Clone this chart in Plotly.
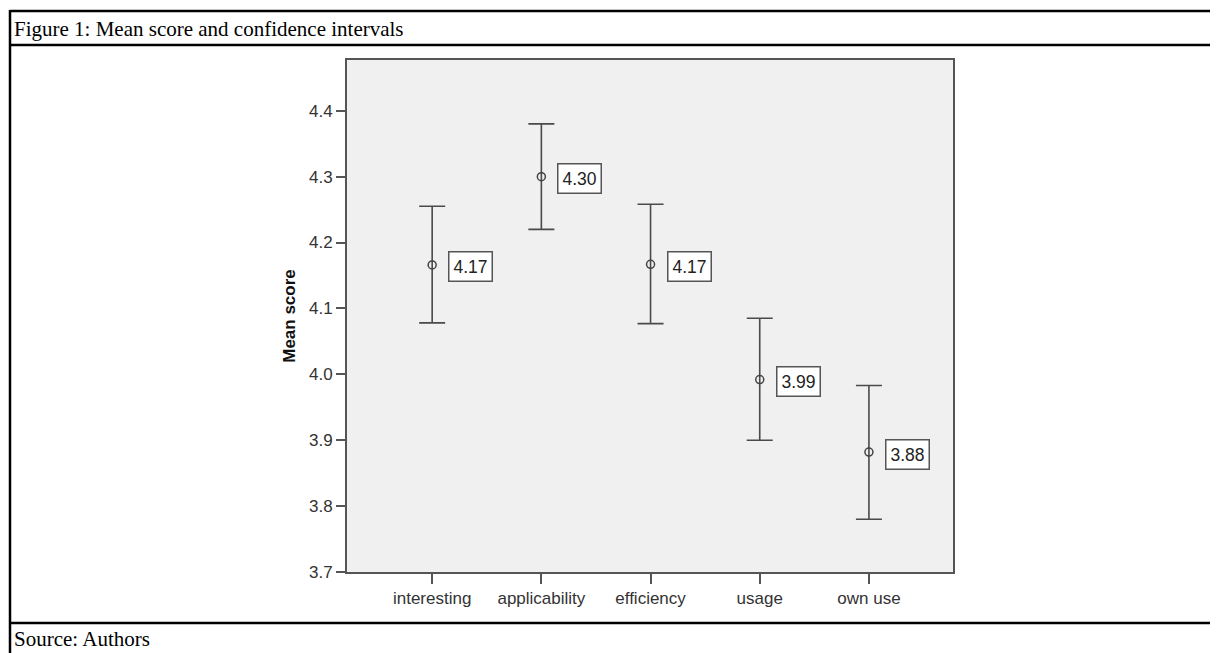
import plotly.graph_objects as go

categories = ["interesting", "applicability", "efficiency", "usage", "own use"]
means = [4.166, 4.300, 4.167, 3.992, 3.882]
ci_upper = [4.255, 4.380, 4.258, 4.085, 3.983]
ci_lower = [4.078, 4.220, 4.077, 3.900, 3.780]
mean_labels = ["4.17", "4.30", "4.17", "3.99", "3.88"]
y_ticks = [3.7, 3.8, 3.9, 4.0, 4.1, 4.2, 4.3, 4.4]

# The page body has an 8px margin, so the figure is 8px smaller than the window
OFF = 8
W, H = 1218 - OFF, 653 - OFF
L, R, T, B = 347 - OFF, 953 - OFF, 60 - OFF, 572 - OFF  # plot area in figure pixels


def px(x):
    """page pixel x -> paper coordinate"""
    return (x - OFF - L) / (R - L)


def py(y):
    """page pixel y -> paper coordinate"""
    return (B - (y - OFF)) / (B - T)


xs = list(range(len(categories)))
err_plus = [u - m for u, m in zip(ci_upper, means)]
err_minus = [m - l for m, l in zip(means, ci_lower)]

fig = go.Figure()
fig.add_trace(go.Scatter(
    x=xs, y=means, mode="markers",
    marker=dict(symbol="circle-open", size=8, color="#444444", line=dict(width=1.5, color="#444444")),
    error_y=dict(type="data", symmetric=False, array=err_plus, arrayminus=err_minus,
                 color="#4a4a4a", thickness=1.6, width=13),
    showlegend=False, hoverinfo="skip",
))

for x, m, lab in zip(xs, means, mean_labels):
    fig.add_annotation(
        x=x, y=m, xref="x", yref="y", text=lab, showarrow=False,
        xanchor="left", yanchor="middle", xshift=16, yshift=-2,
        font=dict(family="Liberation Sans, Arial, sans-serif", size=17.5, color="#222222"),
        bgcolor="white", bordercolor="#555555", borderwidth=1.5, borderpad=4,
    )

# Figure table frame and captions
frame = dict(color="black", width=2.5)
shapes = [
    dict(type="line", xref="paper", yref="paper", x0=px(10), x1=px(1230), y0=py(11), y1=py(11), line=frame),
    dict(type="line", xref="paper", yref="paper", x0=px(10), x1=px(1230), y0=py(45), y1=py(45), line=frame),
    dict(type="line", xref="paper", yref="paper", x0=px(10), x1=px(1230), y0=py(623), y1=py(623), line=frame),
    dict(type="line", xref="paper", yref="paper", x0=px(10), x1=px(10), y0=py(10), y1=py(660), line=frame),
]
fig.update_layout(shapes=shapes)

fig.add_annotation(
    x=px(12), y=py(29), xref="paper", yref="paper", xanchor="left", yanchor="middle",
    text="Figure 1: Mean score and confidence intervals", showarrow=False,
    font=dict(family="Liberation Serif, Times New Roman, serif", size=21, color="black"),
)
fig.add_annotation(
    x=px(12), y=py(639), xref="paper", yref="paper", xanchor="left", yanchor="middle",
    text="Source: Authors", showarrow=False,
    font=dict(family="Liberation Serif, Times New Roman, serif", size=21, color="black"),
)

fig.update_layout(
    width=W, height=H,
    margin=dict(l=L, r=W - R, t=T, b=H - B, pad=0),
    paper_bgcolor="white", plot_bgcolor="#f0f0f0",
    font=dict(family="Liberation Sans, Arial, sans-serif", color="#333333"),
    xaxis=dict(
        range=[-0.78, 4.77], tickmode="array", tickvals=xs, ticktext=categories,
        showgrid=False, zeroline=False, showline=True, mirror=True,
        linecolor="#555555", linewidth=1.8, ticks="outside", ticklen=10, tickwidth=1.6,
        tickcolor="#555555", tickfont=dict(size=17, color="#333333"),
    ),
    yaxis=dict(
        range=[3.7, 4.477], tickmode="array", tickvals=y_ticks,
        ticktext=[f"{v:.1f}" for v in y_ticks],
        showgrid=False, zeroline=False, showline=True, mirror=True,
        linecolor="#555555", linewidth=1.8, ticks="outside", ticklen=9, tickwidth=1.6,
        tickcolor="#555555", tickfont=dict(size=17, color="#333333"),
        title=dict(text="<b>Mean score</b>", standoff=9,
                   font=dict(size=17, color="#111111")),
    ),
)

fig.write_html("out.html")
